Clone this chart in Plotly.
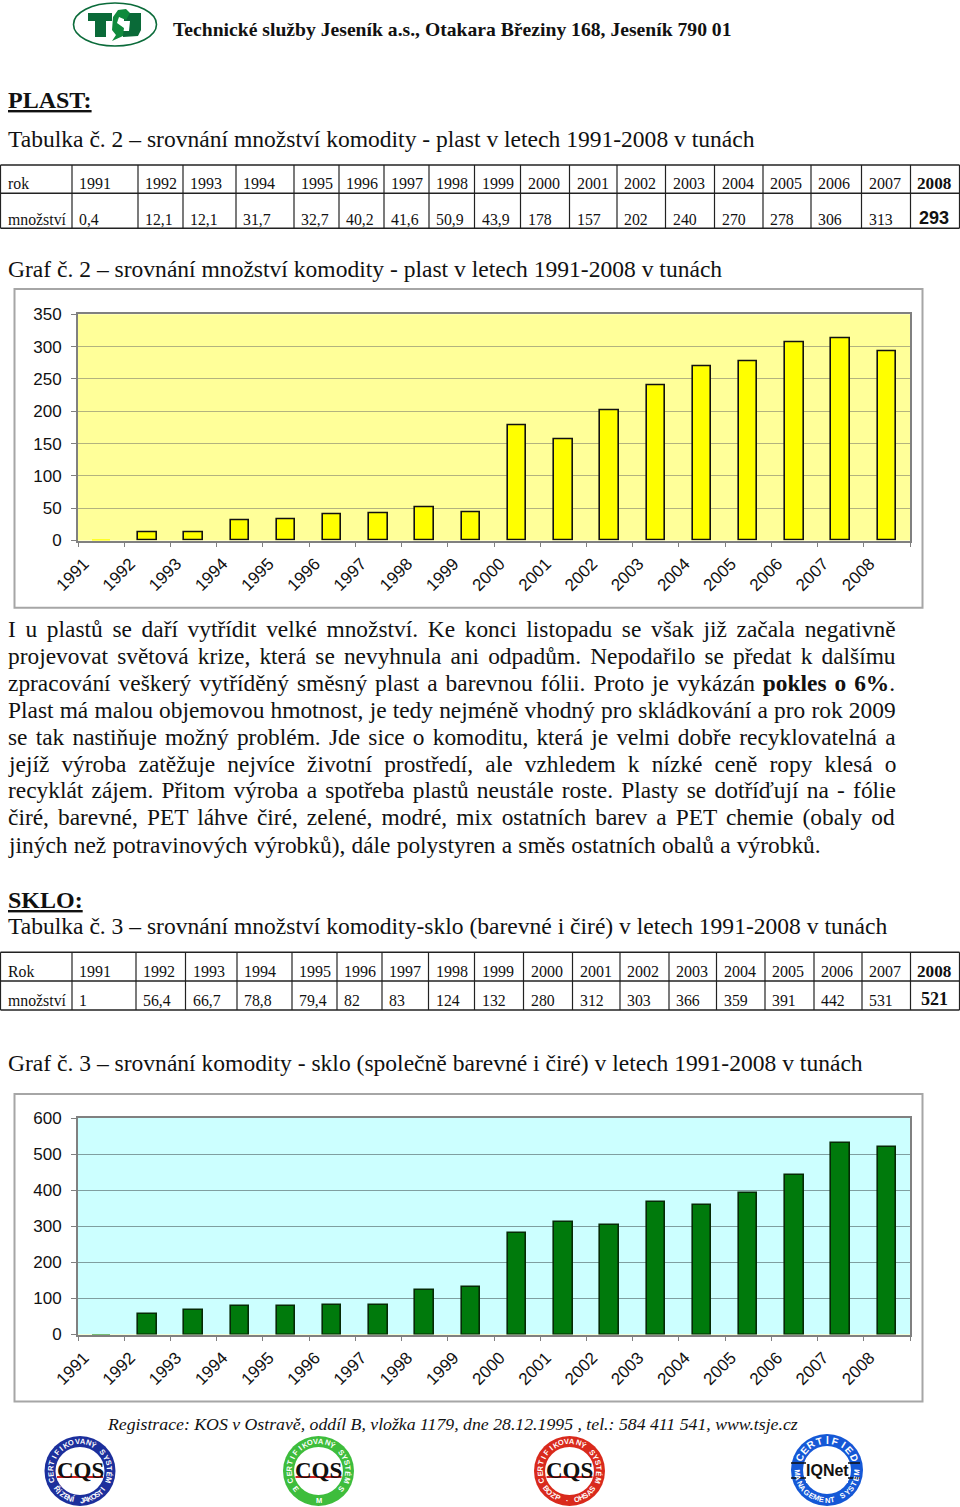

import math
import unicodedata
import plotly.graph_objects as go

W, H = 960, 1507

years = list(range(1991, 2009))
plast = [0.4, 12.1, 12.1, 31.7, 32.7, 40.2, 41.6, 50.9, 43.9, 178, 157, 202, 240, 270, 278, 306, 313, 293]
sklo = [1, 56.4, 66.7, 78.8, 79.4, 82, 83, 124, 132, 280, 312, 303, 366, 359, 391, 442, 531, 521]
plast_ticks = [0, 50, 100, 150, 200, 250, 300, 350]
sklo_ticks = [0, 100, 200, 300, 400, 500, 600]

header = "Technické služby Jeseník a.s., Otakara Březiny 168, Jeseník 790 01"
footer = "Registrace: KOS v Ostravě, oddíl B, vložka 1179, dne 28.12.1995 , tel.: 584 411 541, www.tsje.cz"
title_t2 = "Tabulka č. 2 – srovnání množství komodity - plast v letech 1991-2008 v tunách"
title_g2 = "Graf č. 2 – srovnání množství komodity - plast v letech 1991-2008 v tunách"
title_t3 = "Tabulka č. 3 – srovnání množství komodity-sklo (barevné i čiré) v letech 1991-2008 v tunách"
title_g3 = "Graf č. 3 – srovnání komodity - sklo (společně barevné i čiré) v letech 1991-2008 v tunách"
body = [
    "I u plastů se daří vytřídit velké množství. Ke konci listopadu se však již začala negativně",
    "projevovat světová krize, která se nevyhnula ani odpadům. Nepodařilo se předat k dalšímu",
    "zpracování veškerý vytříděný směsný plast a barevnou fólii. Proto je vykázán <b>pokles o 6%</b>.",
    "Plast má malou objemovou hmotnost, je tedy nejméně vhodný pro skládkování a pro rok 2009",
    "se tak nastiňuje možný problém. Jde sice o komoditu, která je velmi dobře recyklovatelná a",
    "jejíž výroba zatěžuje nejvíce životní prostředí, ale vzhledem k nízké ceně ropy klesá o",
    "recyklát zájem. Přitom výroba a spotřeba plastů neustále roste. Plasty se dotříďují na - fólie",
    "čiré, barevné, PET láhve čiré, zelené, modré, mix ostatních barev a PET chemie (obaly od",
    "jiných než potravinových výrobků), dále polystyren a směs ostatních obalů a výrobků.",
]
body_trim = [0, 0, 7, 0, 0, 0, 3, 0, 0]

SERIF = "Liberation Serif"
SANS = "Liberation Sans"

def X(p): return p / W
def Y(p): return 1 - p / H

annotations, shapes = [], []

def text(x, y, s, size=16, family=SERIF, color="#111", xanchor="left", angle=0):
    annotations.append(dict(x=X(x), y=Y(y), xref="paper", yref="paper", text=s, showarrow=False,
                            xanchor=xanchor, yanchor="middle", textangle=angle, borderpad=0, borderwidth=0,
                            font=dict(family=family, size=size, color=color)))

def line(x0, y0, x1, y1, color="#222", width=1.3):
    shapes.append(dict(type="line", xref="paper", yref="paper", x0=X(x0), y0=Y(y0), x1=X(x1), y1=Y(y1),
                       line=dict(color=color, width=width), layer="above"))

def rect(x0, y0, x1, y1, lc="#a6a6a6", lw=2, fill=None, layer="below"):
    shapes.append(dict(type="rect", xref="paper", yref="paper", x0=X(x0), y0=Y(y0), x1=X(x1), y1=Y(y1),
                       line=dict(color=lc, width=lw), fillcolor=fill, layer=layer))

def ellipse(cx, cy, rx, ry, fill=None, lc="rgba(0,0,0,0)", lw=0):
    shapes.append(dict(type="circle", xref="paper", yref="paper", x0=X(cx - rx), y0=Y(cy - ry), x1=X(cx + rx), y1=Y(cy + ry),
                       fillcolor=fill, line=dict(color=lc, width=lw), layer="above"))

def poly(pts, fill):
    d = "M " + " L ".join(f"{X(a):.5f} {Y(b):.5f}" for a, b in pts) + " Z"
    shapes.append(dict(type="path", xref="paper", yref="paper", path=d, fillcolor=fill,
                       line=dict(width=0), layer="above"))

# Times metric table, used only to justify the paragraph
AFM = dict(a=444, b=500, c=444, d=500, e=444, f=333, g=500, h=500, i=278, j=278, k=500, l=278, m=778, n=500, o=500,
           p=500, q=500, r=333, s=389, t=278, u=500, v=500, w=722, x=500, y=500, z=444, A=722, B=667, C=667, D=722,
           E=611, F=556, G=722, H=722, I=333, J=389, K=722, L=611, M=889, N=722, O=722, P=556, Q=722, R=667, S=556,
           T=611, U=722, V=722, W=944, X=722, Y=722, Z=611)
AFM.update({" ": 250, ".": 250, ",": 250, "-": 333, ":": 278, "(": 333, ")": 333, "%": 833})
AFM.update({str(d): 500 for d in range(10)})

def natural(s, size):
    s = s.replace("<b>", "").replace("</b>", "")
    w = 0
    for c in s:
        b = unicodedata.normalize("NFD", c)[0]
        w += AFM.get(b, 500)
    return w * size / 1000

BODY_SIZE = 23.4
TITLE_SIZE = 23.55
for i, s in enumerate(body):
    y = 628.5 + 27 * i
    n = s.replace("<b>", "").count(" ")
    target = 812 if i == len(body) - 1 else 888
    gap = (target - body_trim[i] - natural(s, BODY_SIZE)) / n
    text(8, y, f'<span style="word-spacing:{gap:.2f}px">{s}</span>', size=BODY_SIZE)

text(173, 29, f"<b>{header}</b>", size=19.65)
text(8, 100.5, "<b><u>PLAST:</u></b>", size=24)
text(8, 139, title_t2, size=TITLE_SIZE)
text(8, 269, title_g2, size=TITLE_SIZE)
text(8, 899.5, "<b><u>SKLO:</u></b>", size=24)
text(8, 926, title_t3, size=TITLE_SIZE)
text(8, 1063, title_g3, size=TITLE_SIZE)
text(107, 1424, f"<i>{footer}</i>", size=17.75)

fmt = lambda v: str(v).replace(".", ",")

def table(cols, y0, y1, y2, name0, name1, vals, shift):
    for yy in (y0, y1, y2):
        line(0.5, yy, 959.5, yy, width=1.6)
    for c in cols:
        line(c, y0, c, y2, width=1.2)
    row0 = (y0 + y1) / 2 + 4.5
    row1 = (y1 + y2) / 2 + shift
    text(8, row0, name0, size=15.8)
    text(8, row1, name1, size=15.8)
    for i, yr in enumerate(years):
        last = i == len(years) - 1
        text(cols[i + 1] + 7 if not last else 917, row0, f"<b>{yr}</b>" if last else str(yr), size=16 if not last else 17.2)
        s = fmt(vals[i])
        if last:
            text(934, row1 - 1.5, f"<b>{s}</b>", size=18, family=SANS if name0 == "rok" else SERIF, xanchor="center")
        else:
            text(cols[i + 1] + 7, row1, s, size=15.8)

cols1 = [0.5, 72, 138, 183, 236, 294, 339, 384, 429, 474.5, 520.5, 569.5, 617, 665.5, 714.5, 763, 811, 861.5, 910.5, 959.5]
cols2 = [0.5, 72, 136, 185.5, 237, 292, 337, 382, 428.5, 474.5, 523.5, 572.5, 620, 669, 716.5, 765, 814, 862, 910.5, 959.5]
table(cols1, 165, 193.3, 228.3, "rok", "množství", plast, 8.5)
table(cols2, 952.3, 981, 1010, "Rok", "množství", sklo, 5)

# chart frames
rect(14.5, 289, 922.5, 607.7)
rect(14.5, 1094, 922.5, 1401.5)

# company logo
ellipse(115, 24.5, 41.5, 21.5, fill="rgba(255,255,255,0)", lc="#0b6b3a", lw=1.6)
G = "#0a6a38"
poly([(88, 13), (112, 13), (112, 21), (106, 21), (106, 37), (95, 37), (95, 21), (88, 21)], G)
poly([(124, 13), (141, 13), (141, 30), (138, 36), (123, 37), (123, 31), (129, 31), (130, 21), (124, 21)], G)
poly([(113, 17), (118, 10), (126, 9), (130, 13), (126, 20), (119, 17), (117, 23), (124, 28), (123, 36), (112, 41), (116, 35), (112, 30)], "#0f8a3c")

# certification seals
def ring_text(cx, cy, r, s, mid, span, size, top=True):
    n = len(s)
    for k, ch in enumerate(s):
        a = mid + (k - (n - 1) / 2) * span / max(n - 1, 1) * (1 if top else -1)
        px = cx + r * math.sin(math.radians(a))
        py = cy - r * math.cos(math.radians(a))
        text(px, py, f"<b>{ch}</b>", size=size, family=SANS, color="white", xanchor="center",
             angle=a if top else a - 180)

def seal(cx, cy, color, top, bottom):
    ellipse(cx, cy, 35.5, 35, fill=color)
    ellipse(cx, cy, 24.5, 24, fill="white")
    ring_text(cx, cy, 29.5, top, 0, 215, 7.5)
    ring_text(cx, cy, 29.5, bottom, 180, 105, 7.5, top=False)
    text(cx, cy - 1, "<b>CQS</b>", size=23, color="#111", xanchor="center")
    line(cx - 23, cy + 6, cx + 23, cy + 6, color="#cc2222", width=2)

seal(80, 1471, "#1c2f9c", "CERTIFIKOVANÝ SYSTÉM", "ŘÍZENÍ JAKOSTI")
seal(318.5, 1471, "#3ebd3c", "CERTIFIKOVANÝ SYSTÉM", "E M S")
seal(569.5, 1471, "#d92a1c", "CERTIFIKOVANÝ SYSTÉM", "BOZP · OHSAS")
ellipse(827, 1470, 36, 36, fill="#1558d6")
ellipse(827, 1470, 24, 24, fill="white")
ring_text(827, 1470, 30, "CERTIFIED", 0, 130, 10)
ring_text(827, 1470, 30, "MANAGEMENT SYSTEM", 180, 170, 7.5, top=False)
line(791, 1463, 860, 1463, color="#111", width=1.5)
line(791, 1478, 860, 1478, color="#111", width=1.5)
rect(806, 1458, 848, 1483, lc="white", lw=0, fill="white", layer="above")
text(827, 1470, "<b>IQNet</b>", size=16, family=SANS, color="#111", xanchor="center")

fig = go.Figure()
fig.add_bar(x=[y + 0.5 for y in years], y=plast, width=0.4, xaxis="x", yaxis="y",
            marker=dict(color="#FFFF00", line=dict(color="#111", width=[1.6 if v > 2 else 0 for v in plast])),
            hoverinfo="x+y")
fig.add_bar(x=[y + 0.5 for y in years], y=sklo, width=0.4, xaxis="x2", yaxis="y2",
            marker=dict(color="#007A0C", line=dict(color="#062a06", width=[1.6 if v > 2 else 0 for v in sklo])),
            hoverinfo="x+y")

def xaxis(anchor):
    return dict(domain=[X(78), X(910)], range=[1991, 2009], anchor=anchor, tickmode="array", tickvals=years + [2009],
                ticktext=[str(y) for y in years] + [""], tickangle=-45, ticks="outside", ticklen=5, tickcolor="#808080",
                tickwidth=1, showgrid=False, showline=True, linecolor="#808080", linewidth=1.5, zeroline=False,
                mirror=True, automargin=False, ticklabelshift=6, tickfont=dict(family=SANS, size=17, color="#111"))

def yaxis(anchor, lo, hi, top, ticks, grid):
    return dict(domain=[Y(lo), Y(hi)], range=[0, top], anchor=anchor, tickmode="array", tickvals=ticks,
                ticks="outside", ticklen=5, tickcolor="#808080", tickwidth=1, showgrid=True, gridcolor=grid,
                gridwidth=1, showline=True, linecolor="#808080", linewidth=2, zeroline=False, mirror=True,
                automargin=False, ticklabelstandoff=6, tickfont=dict(family=SANS, size=17, color="#111"))

fig.update_layout(
    width=W, height=H, margin=dict(l=0, r=0, t=0, b=0, pad=0), autosize=False, showlegend=False,
    paper_bgcolor="white", plot_bgcolor="#FFFF99", bargap=0,
    xaxis=xaxis("y"), yaxis=yaxis("x", 540.5, 314.3, 350, plast_ticks, "#b3b37f"),
    xaxis2=xaxis("y2"), yaxis2=yaxis("x2", 1334.5, 1118, 600, sklo_ticks, "#7f9fa0"),
    annotations=annotations, shapes=shapes,
)
# second plot area colour is drawn as a rectangle on the axes of the second chart
fig.add_shape(type="rect", xref="x2", yref="y2", x0=1991, x1=2009, y0=0, y1=600, fillcolor="#CCFFFF",
              line=dict(width=0), layer="below")

fig.write_html("out.html", config=dict(displayModeBar=False),
               post_script="document.body.style.margin='0';document.body.style.overflow='hidden';")
